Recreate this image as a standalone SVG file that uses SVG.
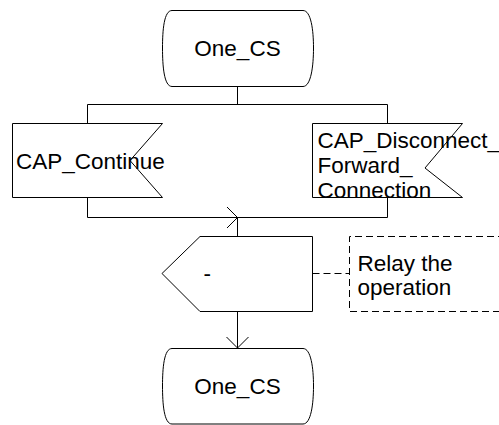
<svg xmlns="http://www.w3.org/2000/svg" width="499" height="425" viewBox="0 0 499 425">
<style>
.s{fill:#fff;stroke:#000;stroke-width:1}
.l{fill:none;stroke:#000;stroke-width:1}
.d{fill:none;stroke:#000;stroke-width:1;stroke-dasharray:7 4}
text{font-family:"Liberation Sans",Arial,sans-serif;font-size:22.5px;fill:#000}
</style>
<rect width="499" height="425" fill="#fff"/>
<g id="connectors">
<path class="l" d="M237.5,86 V104.5 M87.5,104.5 H387.5 M87.5,104.5 V123 M387.5,104.5 V123 M87.5,198 V217.5 M387.5,198 V217.5 M87.5,217.5 H387.5 M237.5,217.5 V236 M237.5,311 V348"/>
<path class="l" d="M227,207 L237.5,217.5 L227,228"/>
<path class="l" d="M226.5,337 L237.5,348 L248.5,337"/>
<path class="d" d="M312.5,273.5 H349.5"/>
</g>
<g id="state_top">
<path class="s" d="M172,10.5 H303 C311,10.5 313.5,30 313.5,48 C313.5,66 311,86.5 303,86.5 H172 C164,86.5 162.5,66 162.5,48 C162.5,30 164,10.5 172,10.5 Z"/>
<text x="237.5" y="56" text-anchor="middle">One_CS</text>
</g>
<g id="input_continue">
<path class="s" d="M12.5,123.5 H162.5 L130,160.5 L162.5,197.5 H12.5 Z"/>
<text x="16" y="169">CAP_Continue</text>
</g>
<g id="input_disconnect">
<path class="s" d="M312.5,123.5 H462.5 L425,168 L462.5,197.5 H312.5 Z"/>
<text x="317.5" y="147.5">CAP_Disconnect_</text>
<text x="317.5" y="172.5">Forward_</text>
<text x="317.5" y="197.5">Connection</text>
</g>
<g id="output">
<path class="s" d="M162,273.5 L200,236.5 H312.5 V311.5 H200 Z"/>
<text x="203.5" y="280.5">-</text>
</g>
<g id="comment">
<path class="d" d="M505,236.5 H349.5 V311.5 H505"/>
<text x="357.5" y="270.5">Relay the</text>
<text x="357.5" y="295">operation</text>
</g>
<g id="state_bottom">
<path class="s" d="M172,348.5 H303 C311,348.5 313.5,368 313.5,386 C313.5,404 311,424 303,424 H172 C164,424 162.5,404 162.5,386 C162.5,368 164,348.5 172,348.5 Z"/>
<text x="237.5" y="394" text-anchor="middle">One_CS</text>
</g>
</svg>
